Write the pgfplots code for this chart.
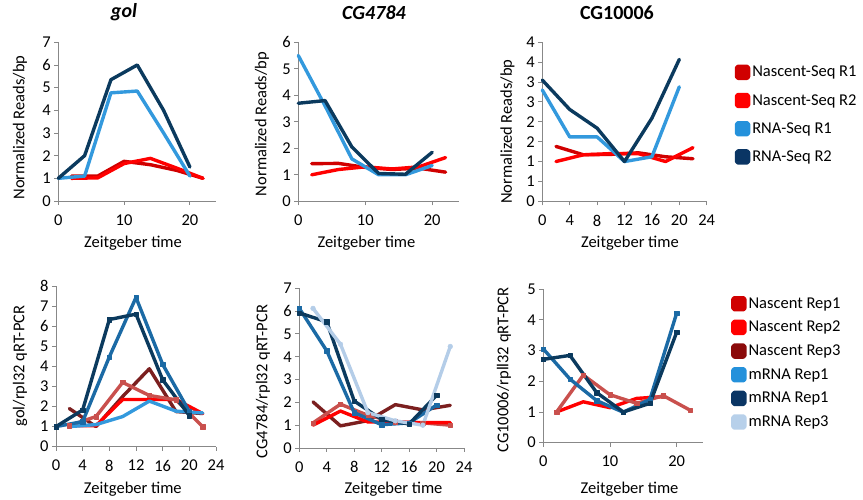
\documentclass[border=0pt]{standalone}
\usepackage{fontspec}
\setmainfont{Carlito}
\usepackage{pgfplots}
\pgfplotsset{compat=1.18}
\definecolor{axg}{HTML}{888888}
\definecolor{nsA}{HTML}{D00000}
\definecolor{nsB}{HTML}{FF0000}
\definecolor{rsA}{HTML}{3399DD}
\definecolor{rsB}{HTML}{0B3A5E}
\definecolor{ired}{HTML}{C9504D}
\definecolor{dred}{HTML}{7B1F1F}
\definecolor{mblue}{HTML}{1B6AA5}
\definecolor{vlblue}{HTML}{B4CDE8}
\definecolor{lgA}{HTML}{D00000}
\definecolor{lgB}{HTML}{FF0000}
\definecolor{lgC}{HTML}{8B0A0A}
\definecolor{lgD}{HTML}{2491DB}
\definecolor{lgE}{HTML}{0A3564}
\definecolor{lgF}{HTML}{B7D0EA}
\newcommand\fs{\fontsize{16.5}{19}\selectfont}
\newcommand\ft{\fontsize{20}{23}\selectfont}
\pgfplotsset{
  exc/.style={
    scale only axis, anchor=south west,
    axis x line*=bottom, axis y line*=left,
    axis line style={draw=axg, line width=0.9pt, -},
    tick align=outside, major tick length=4pt,
    every tick/.style={draw=axg, line width=0.9pt},
    xmin=0, xmax=24, ymin=0, clip=false,
    tick label style={font=\fs, text=black},
    xticklabel style={yshift=-6pt},
    label style={font=\fs},
    title style={font=\ft, anchor=center},
    /pgf/number format/assume math mode=true,
    every axis plot/.append style={line width=3.4pt, line join=round, line cap=round, forget plot},
  },
  sq/.style={mark=square*, mark size=2.2pt, mark options={solid, line width=0.4pt}},
  ci/.style={mark=*, mark size=2.4pt, mark options={solid, line width=0.4pt}},
  lsq/.style={legend image code/.code={\fill[#1,rounded corners=1.5pt] (0pt,-6pt) rectangle (12pt,6pt);}},
  legst/.style={legend style={draw=none, fill=none, font=\fs, inner sep=0pt, legend cell align=left}},
}
\begin{document}
\begin{tikzpicture}[x=1pt,y=1pt]
\path[use as bounding box] (0,0) rectangle (863,500);

% ---------- P1 gol ----------
\begin{axis}[exc, at={(58.3pt,299pt)}, width=157.9pt, height=158.7pt,
  ymax=7, xtick={0,10,20}, ytick={0,1,...,7},
  title={\textbf{\textit{gol}}}, title style={at={(axis description cs:0.416,1.153)}},
  xlabel={Zeitgeber time}, xlabel style={at={(axis description cs:0.473,-0.265)}, anchor=center},
  ylabel={Normalized Reads/bp}, ylabel style={at={(axis description cs:-0.243,0.463)}, anchor=center}]
\addplot[nsA] coordinates {(2,1.1)(6,1.1)(10,1.75)(14,1.6)(18,1.35)(22,1.0)};
\addplot[nsB] coordinates {(2,1.0)(6,1.02)(10,1.65)(14,1.88)(18,1.45)(22,1.0)};
\addplot[rsA] coordinates {(0,1.0)(4,1.1)(8,4.77)(12,4.85)(16,3.0)(20,1.1)};
\addplot[rsB] coordinates {(0,1.0)(4,2.0)(8,5.35)(12,6.0)(16,4.0)(20,1.5)};
\end{axis}

% ---------- P2 CG4784 ----------
\begin{axis}[exc, at={(298.3pt,298.7pt)}, width=160.7pt, height=159pt,
  ymax=6, xtick={0,10,20}, ytick={0,1,...,6},
  title={\textbf{\textit{CG4784}}}, title style={at={(axis description cs:0.471,1.151)}},
  xlabel={Zeitgeber time}, xlabel style={at={(axis description cs:0.424,-0.265)}, anchor=center},
  ylabel={Normalized Reads/bp}, ylabel style={at={(axis description cs:-0.226,0.486)}, anchor=center}]
\addplot[nsA] coordinates {(2,1.42)(6,1.43)(10,1.28)(14,1.2)(18,1.25)(22,1.1)};
\addplot[nsB] coordinates {(2,1.0)(6,1.2)(10,1.3)(14,1.22)(18,1.3)(22,1.65)};
\addplot[rsA] coordinates {(0,5.5)(4,3.6)(8,1.6)(12,1.0)(16,1.0)(20,1.35)};
\addplot[rsB] coordinates {(0,3.7)(4,3.8)(8,2.05)(12,1.05)(16,1.02)(20,1.85)};
\end{axis}

% ---------- P3 CG10006 ----------
\begin{axis}[exc, at={(542.3pt,298.7pt)}, width=164.4pt, height=159pt,
  ymax=4, xtick={0,4,...,24}, ytick={0,0.5,...,4}, yticklabels={0,1,1,2,2,3,3,4,4},
  title={\textbf{CG10006}}, title style={at={(axis description cs:0.454,1.151)}},
  xlabel={Zeitgeber time}, xlabel style={at={(axis description cs:0.533,-0.265)}, anchor=center},
  ylabel={Normalized Reads/bp}, ylabel style={at={(axis description cs:-0.212,0.438)}, anchor=center},
  legst, legend style={at={(axis description cs:1.170,0.8635)}, anchor=north west, row sep=12pt}]
\addplot[nsA] coordinates {(2,1.38)(6,1.17)(10,1.18)(14,1.22)(18,1.12)(22,1.07)};
\addplot[nsB] coordinates {(2,1.0)(6,1.17)(10,1.2)(14,1.2)(18,1.0)(22,1.35)};
\addplot[rsA] coordinates {(0,2.8)(4,1.62)(8,1.62)(12,1.0)(16,1.12)(20,2.88)};
\addplot[rsB] coordinates {(0,3.05)(4,2.31)(8,1.84)(12,1.0)(16,2.09)(20,3.57)};
\addlegendimage{lsq=nsA}\addlegendentry{Nascent-Seq R1}
\addlegendimage{lsq=nsB}\addlegendentry{Nascent-Seq R2}
\addlegendimage{lsq=lgD}\addlegendentry{RNA-Seq R1}
\addlegendimage{lsq=lgE}\addlegendentry{RNA-Seq R2}
\end{axis}

% ---------- P4 gol qPCR ----------
\begin{axis}[exc, at={(56pt,53.3pt)}, width=160pt, height=160.7pt,
  ymax=8, xtick={0,4,...,24}, ytick={0,1,...,8},
  xlabel={Zeitgeber time}, xlabel style={at={(axis description cs:0.48,-0.263)}, anchor=center},
  ylabel={gol/rpl32 qRT-PCR}, ylabel style={at={(axis description cs:-0.225,0.502)}, anchor=center}]
\addplot[dred] coordinates {(2,1.9)(6,1.0)(10,2.5)(14,3.88)(18,1.75)(22,1.65)};
\addplot[nsB] coordinates {(2,1.05)(6,1.05)(10,2.35)(14,2.35)(18,2.35)(22,1.65)};
\addplot[ired, sq] coordinates {(2,1.05)(6,1.5)(10,3.2)(14,2.55)(18,2.33)(22,1.0)};
\addplot[rsA] coordinates {(2,1.0)(6,1.1)(10,1.5)(14,2.27)(18,1.77)(22,1.68)};
\addplot[mblue, sq] coordinates {(0,1.0)(4,1.25)(8,4.47)(12,7.43)(16,4.1)(20,1.75)};
\addplot[rsB, sq] coordinates {(0,1.0)(4,1.83)(8,6.33)(12,6.6)(16,3.33)(20,1.55)};
\end{axis}

% ---------- P5 CG4784 qPCR ----------
\begin{axis}[exc, at={(299.3pt,52pt)}, width=164.7pt, height=159.7pt,
  ymax=7, xtick={0,4,...,24}, ytick={0,1,...,7},
  xlabel={Zeitgeber time}, xlabel style={at={(axis description cs:0.572,-0.257)}, anchor=center},
  ylabel={CG4784/rpl32 qRT-PCR}, ylabel style={at={(axis description cs:-0.22,0.416)}, anchor=center}]
\addplot[dred] coordinates {(2,2.02)(6,0.97)(10,1.2)(14,1.9)(18,1.67)(22,1.87)};
\addplot[ired, sq] coordinates {(2,1.1)(6,1.92)(10,1.43)(14,1.15)(18,1.1)(22,1.0)};
\addplot[nsB] coordinates {(2,1.0)(6,1.62)(10,1.14)(14,1.14)(18,1.11)(22,1.11)};
\addplot[mblue, sq] coordinates {(0,6.12)(4,4.26)(8,1.55)(12,1.02)(16,1.1)(20,1.88)};
\addplot[rsB, sq] coordinates {(0,5.92)(4,5.53)(8,2.06)(12,1.25)(16,1.05)(20,2.31)};
\addplot[vlblue, ci] coordinates {(2,6.12)(6,4.55)(10,1.55)(14,1.19)(18,1.0)(22,4.45)};
\end{axis}

% ---------- P6 CG10006 qPCR ----------
\begin{axis}[exc, at={(543.3pt,57.3pt)}, width=160pt, height=153.7pt,
  ymax=5, xtick={0,10,20}, ytick={0,1,...,5},
  xlabel={Zeitgeber time}, xlabel style={at={(axis description cs:0.539,-0.303)}, anchor=center},
  ylabel={CG10006/rpll32 qRT-PCR}, ylabel style={at={(axis description cs:-0.246,0.473)}, anchor=center},
  legst, legend style={at={(axis description cs:1.173,0.958)}, anchor=north west, row sep=7.5pt}]
\addplot[nsB] coordinates {(2,1.0)(6,1.33)(10,1.14)(14,1.44)(18,1.5)};
\addplot[ired, sq] coordinates {(2,1.0)(6,2.2)(10,1.56)(14,1.28)(18,1.53)(22,1.06)};
\addplot[mblue, sq] coordinates {(0,3.05)(4,2.07)(8,1.37)(12,0.99)(16,1.41)(20,4.21)};
\addplot[rsB, sq] coordinates {(0,2.71)(4,2.84)(8,1.63)(12,1.0)(16,1.28)(20,3.59)};
\addlegendimage{lsq=lgA}\addlegendentry{Nascent Rep1}
\addlegendimage{lsq=lgB}\addlegendentry{Nascent Rep2}
\addlegendimage{lsq=lgC}\addlegendentry{Nascent Rep3}
\addlegendimage{lsq=lgD}\addlegendentry{mRNA Rep1}
\addlegendimage{lsq=lgE}\addlegendentry{mRNA Rep1}
\addlegendimage{lsq=lgF}\addlegendentry{mRNA Rep3}
\end{axis}
\end{tikzpicture}
\end{document}
